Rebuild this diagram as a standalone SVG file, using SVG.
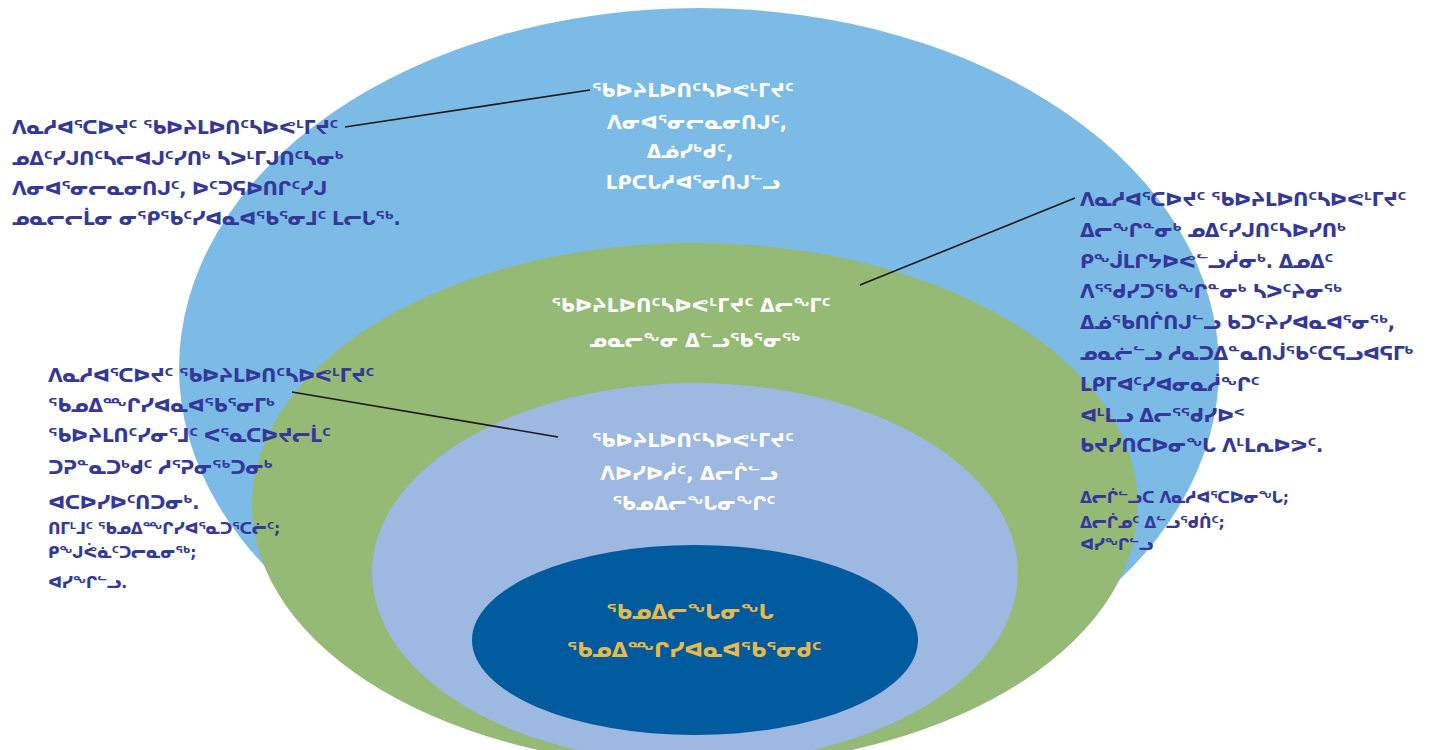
<svg xmlns="http://www.w3.org/2000/svg" width="1429" height="750" viewBox="0 0 1429 750">
<style>
text{font-family:"DejaVu Sans",sans-serif;font-weight:bold}
.nv{fill:#34389b;font-size:19px;letter-spacing:-0.5px}
.sm{fill:#34389b;font-size:15.5px;letter-spacing:-0.3px}
.wh{fill:#ffffff;font-size:19px;text-anchor:middle}
.gd{fill:#e5b94c;font-size:21px;letter-spacing:-0.4px;text-anchor:middle}
.ln{stroke:#1a1a1a;stroke-width:1.6;fill:none}
</style>
<rect width="1429" height="750" fill="#ffffff"/>
<g id="ring-outer"><ellipse cx="699" cy="368" rx="520" ry="360" fill="#7dbbe7"/></g>
<g id="ring-green"><ellipse cx="695" cy="505" rx="443" ry="262" fill="#94ba75"/></g>
<g id="ring-purple"><ellipse cx="695" cy="573" rx="323" ry="190" fill="#9db8e1"/></g>
<g id="ring-core"><ellipse cx="695" cy="640" rx="223" ry="95" fill="#005a9e"/></g>
<g id="connectors">
<line class="ln" x1="345" y1="127" x2="590" y2="90"/>
<line class="ln" x1="860" y1="285" x2="1075" y2="198"/>
<line class="ln" x1="292" y1="392" x2="558" y2="437"/>
</g>
<g id="label-outer">
<text class="wh" x="693" y="97">ᖃᐅᔨᒪᐅᑎᑦᓴᐅᕙᒻᒥᔪᑦ</text>
<text class="wh" x="697" y="129">ᐱᓂᐊᕐᓂᓕᓇᓂᑎᒍᑦ,</text>
<text class="wh" x="690" y="158">ᐃᓅᓯᒃᑯᑦ,</text>
<text class="wh" x="693" y="189">ᒪᑭᑕᒐᓱᐊᕐᓂᑎᒍᓪᓗ</text>
</g>
<g id="label-green">
<text class="wh" x="691" y="312">ᖃᐅᔨᒪᐅᑎᑦᓴᐅᕙᒻᒥᔪᑦ ᐃᓕᖕᒥᑦ</text>
<text class="wh" x="695" y="347">ᓄᓇᓕᖕᓂ ᐃᓪᓗᖃᕐᓂᖅ</text>
</g>
<g id="label-purple">
<text class="wh" x="693" y="447">ᖃᐅᔨᒪᐅᑎᑦᓴᐅᕙᒻᒥᔪᑦ</text>
<text class="wh" x="689" y="480">ᐱᐅᓯᐅᓲᑦ, ᐃᓕᒌᓪᓗ</text>
<text class="wh" x="694" y="510">ᖃᓄᐃᓕᖓᓂᖏᑦ</text>
</g>
<g id="label-core">
<text class="gd" x="690" y="619">ᖃᓄᐃᓕᖓᓂᖓ</text>
<text class="gd" x="694" y="657">ᖃᓄᐃᙱᓯᐊᓇᐊᖃᕐᓂᑯᑦ</text>
</g>
<g id="note-left-top">
<text class="nv" x="12" y="134">ᐱᓇᓱᐊᕐᑕᐅᔪᑦ ᖃᐅᔨᒪᐅᑎᑦᓴᐅᕙᒻᒥᔪᑦ</text>
<text class="nv" x="12" y="165">ᓄᐃᑦᓯᒍᑎᑦᓴᓕᐊᒍᑦᓯᑎᒃ ᓴᐳᒻᒥᒍᑎᑦᓴᓂᒃ</text>
<text class="nv" x="12" y="195">ᐱᓂᐊᕐᓂᓕᓇᓂᑎᒍᑦ, ᐅᑦᑐᕋᐅᑎᒋᑦᓯᒍ</text>
<text class="nv" x="12" y="225">ᓄᓇᓕᓕᒫᓂ ᓂᕿᖃᑦᓯᐊᓇᐊᖃᕐᓂᒧᑦ ᒪᓕᒐᖅ.</text>
</g>
<g id="note-right">
<text class="nv" x="1080" y="206">ᐱᓇᓱᐊᕐᑕᐅᔪᑦ ᖃᐅᔨᒪᐅᑎᑦᓴᐅᕙᒻᒥᔪᑦ</text>
<text class="nv" x="1080" y="237">ᐃᓕᖏᓐᓂᒃ ᓄᐃᑦᓯᒍᑎᑦᓴᐅᓯᑎᒃ</text>
<text class="nv" x="1080" y="268">ᑭᖕᒎᒪᒋᔭᐅᕙᓪᓗᓲᓂᒃ. ᐃᓄᐃᑦ</text>
<text class="nv" x="1080" y="298">ᐱᕐᖁᓯᑐᖃᖏᓐᓂᒃ ᓴᐳᑦᔨᓂᖅ</text>
<text class="nv" x="1080" y="329">ᐃᓅᖃᑎᒌᑎᒍᓪᓗ ᑲᑐᑦᔨᓯᐊᓇᐊᕐᓂᖅ,</text>
<text class="nv" x="1080" y="360">ᓄᓇᓖᓪᓗ ᓱᓇᑐᐃᓐᓇᑎᒎᖃᑦᑕᕋᓗᐊᕋᒥᒃ</text>
<text class="nv" x="1080" y="391">ᒪᑭᒥᐊᑦᓯᐊᓂᓇᓲᖏᑦ</text>
<text class="nv" x="1080" y="422">ᐊᒻᒪᓗ ᐃᓕᕐᖁᓯᐅᑉ</text>
<text class="nv" x="1080" y="452">ᑲᔪᓯᑎᑕᐅᓂᖓ ᐱᒻᒪᕆᐅᕗᑦ.</text>
<text class="sm" x="1080" y="503">ᐃᓕᒌᓪᓗᑕ ᐱᓇᓱᐊᕐᑕᐅᓂᖓ;</text>
<text class="sm" x="1080" y="528">ᐃᓕᒌᓄᑦ ᐃᓪᓗᖁᑏᑦ;</text>
<text class="sm" x="1080" y="550">ᐊᓯᖏᓪᓗ</text>
</g>
<g id="note-left-bottom">
<text class="nv" x="48" y="382">ᐱᓇᓱᐊᕐᑕᐅᔪᑦ ᖃᐅᔨᒪᐅᑎᑦᓴᐅᕙᒻᒥᔪᑦ</text>
<text class="nv" x="48" y="412">ᖃᓄᐃᙱᓯᐊᓇᐊᖃᕐᓂᒥᒃ</text>
<text class="nv" x="48" y="442">ᖃᐅᔨᒪᑎᑦᓯᓂᕐᒧᑦ ᐸᕐᓇᑕᐅᔪᓕᒫᑦ</text>
<text class="nv" x="48" y="474">ᑐᕈᓐᓇᑐᒃᑯᑦ ᓱᕐᕈᓂᖅᑐᓂᒃ</text>
<text class="nv" x="48" y="509">ᐊᑕᐅᓯᐅᑦᑎᑐᓂᒃ.</text>
<text class="sm" x="48" y="534">ᑎᒥᒻᒧᑦ ᖃᓄᐃᙱᓯᐊᕐᓇᑐᕐᑕᓖᑦ;</text>
<text class="sm" x="48" y="558">ᑭᖕᒍᕚᓈᑦᑐᓕᓇᓂᖅ;</text>
<text class="sm" x="48" y="588">ᐊᓯᖏᓪᓗ.</text>
</g>
</svg>
